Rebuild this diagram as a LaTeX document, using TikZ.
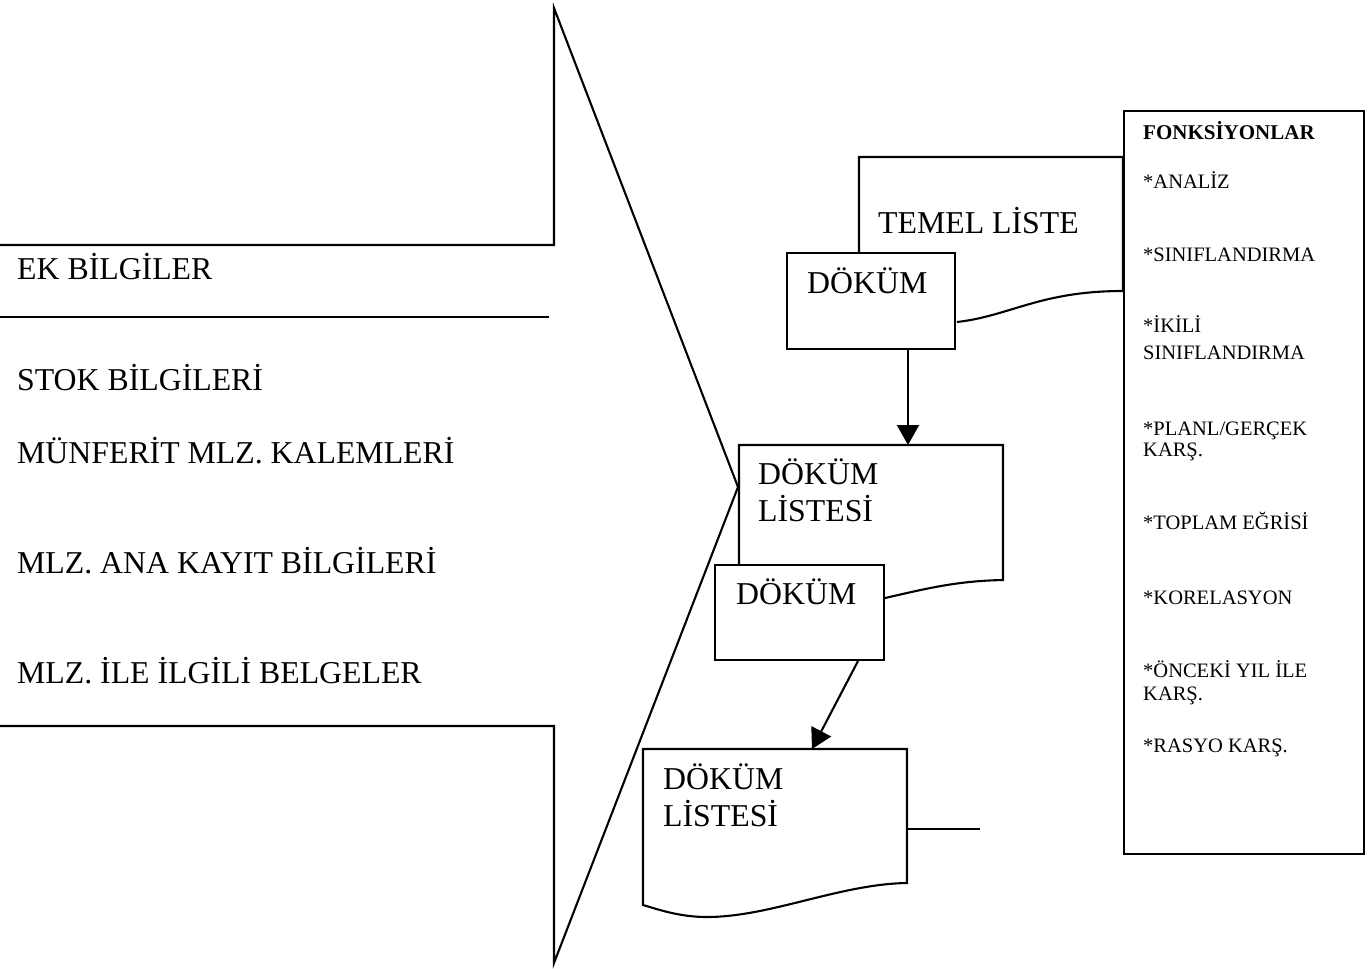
\documentclass[tikz,border=0pt]{standalone}
\usepackage{fontspec}
\setmainfont{Liberation Serif}
\usetikzlibrary{arrows.meta}

\tikzset{
  stroke/.style={line width=2.1pt, line join=miter},
  whitebox/.style={stroke, draw, fill=white, inner sep=0pt},
  bigtext/.style={inner sep=0pt, anchor=base west, font=\fontsize{31.8}{36}\selectfont},
  smalltext/.style={inner sep=0pt, anchor=base west, font=\fontsize{20.5}{24}\selectfont},
  headtext/.style={inner sep=0pt, anchor=base west, font=\fontsize{21}{24}\selectfont\bfseries},
  flowarrow/.style={stroke, -{Triangle[length=20pt,width=22pt]}}
}

\begin{document}
\begin{tikzpicture}[x=1pt, y=-1pt]
\useasboundingbox (0,0) rectangle (1371,969);

% large arrow pointing right, with the information sources inside it
\draw[stroke] (0,245) -- (554,245) -- (554,8) -- (738,487) -- (554,963) -- (554,726) -- (0,726);
\draw[stroke] (0,317) -- (549,317);

\node[bigtext] (ek)    at (17,279) {EK BİLGİLER};
\node[bigtext] (stok)  at (17,390) {STOK BİLGİLERİ};
\node[bigtext] (munf)  at (17,463) {MÜNFERİT MLZ. KALEMLERİ};
\node[bigtext] (anak)  at (17,573) {MLZ. ANA KAYIT BİLGİLERİ};
\node[bigtext] (belge) at (17,683) {MLZ. İLE İLGİLİ BELGELER};

% functions panel
\node[whitebox, minimum width=240pt, minimum height=743pt, anchor=north west] (fonk) at (1123,110) {};
\node[headtext] (fbaslik) at (1143,139) {\addfontfeature{LetterSpace=0}FONKSİYONLAR};
\node[smalltext] (f1)  at (1143,188) {*ANALİZ};
\node[smalltext] (f2)  at (1143,261) {*SINIFLANDIRMA};
\node[smalltext] (f3a) at (1143,332) {*İKİLİ};
\node[smalltext] (f3b) at (1143,359) {SINIFLANDIRMA};
\node[smalltext] (f4a) at (1143,435) {*PLANL/GERÇEK};
\node[smalltext] (f4b) at (1143,456) {KARŞ.};
\node[smalltext] (f5)  at (1143,529) {*TOPLAM EĞRİSİ};
\node[smalltext] (f6)  at (1143,604) {*KORELASYON};
\node[smalltext] (f7a) at (1143,677) {*ÖNCEKİ YIL İLE};
\node[smalltext] (f7b) at (1143,700) {KARŞ.};
\node[smalltext] (f8)  at (1143,752) {*RASYO KARŞ.};

% basic list document
\draw[stroke] (859,270) -- (859,157) -- (1123,157) -- (1123,291)
  .. controls (1040,291) and (1010,316) .. (957,322);
\node[bigtext] (temel) at (878,233) {TEMEL LİSTE};

% first print-out box
\node[whitebox, minimum width=168pt, minimum height=96pt] (dokum1) at (871,301) {};
\node[bigtext] (dokum1t) at (807,293) {DÖKÜM};

% first print-out list document
\draw[stroke] (739,575) -- (739,445) -- (1003,445) -- (1003,580)
  .. controls (955,581) and (925,589) .. (885,598);
\node[bigtext] (liste1a) at (758,484) {DÖKÜM};
\node[bigtext] (liste1b) at (758,521) {LİSTESİ};

% second print-out box
\node[whitebox, minimum width=169pt, minimum height=95pt] (dokum2) at (799.5,612.5) {};
\node[bigtext] (dokum2t) at (736,604) {DÖKÜM};

% second print-out list document
\draw[stroke] (907,883)
  .. controls (840,884) and (770,917) .. (707,917)
  .. controls (680,917) and (660,910) .. (643,905)
  -- (643,749) -- (907,749) -- cycle;
\coordinate (liste2r) at (907,829);
\coordinate (liste2end) at (980,829);
\draw[stroke] (liste2r) -- (liste2end);
\node[bigtext] (liste2a) at (663,789) {DÖKÜM};
\node[bigtext] (liste2b) at (663,826) {LİSTESİ};

% flow arrows
\coordinate (tip1) at (908,445);
\draw[flowarrow] (dokum1.south -| tip1) -- (tip1);
\coordinate (start2) at (858,660);
\coordinate (tip2) at (812,749);
\draw[flowarrow] (dokum2.south -| start2) -- (tip2);
\end{tikzpicture}
\end{document}
